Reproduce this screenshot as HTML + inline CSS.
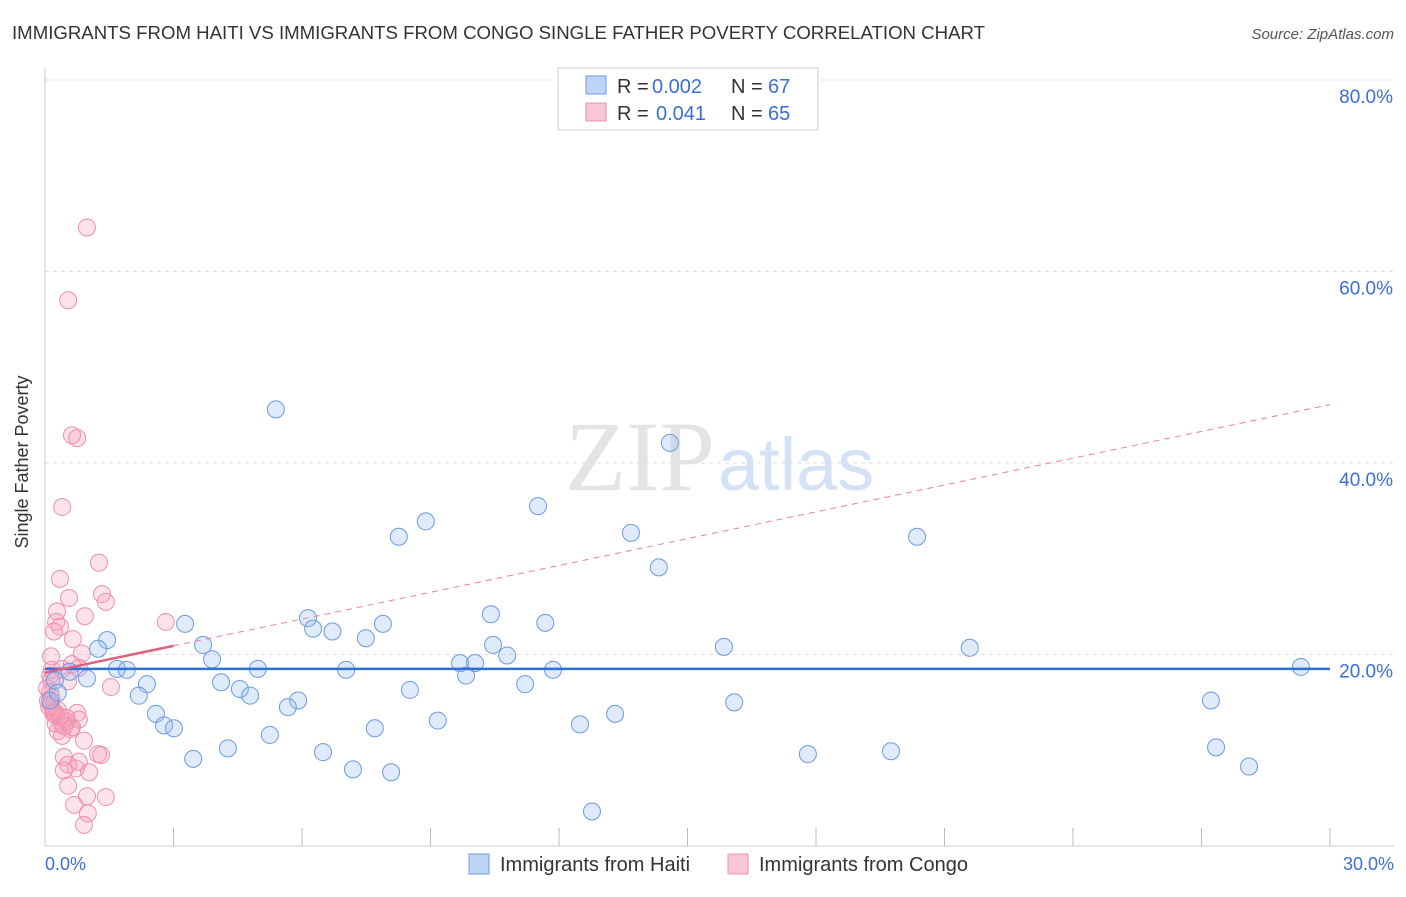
<!DOCTYPE html>
<html><head><meta charset="utf-8"><style>
body{margin:0;background:#fff;font-family:"Liberation Sans",sans-serif;}
</style></head><body>
<svg width="1406" height="892" xmlns="http://www.w3.org/2000/svg" font-family="Liberation Sans, sans-serif">
<text x="12" y="39" font-size="18" fill="#333" textLength="973" lengthAdjust="spacingAndGlyphs">IMMIGRANTS FROM HAITI VS IMMIGRANTS FROM CONGO SINGLE FATHER POVERTY CORRELATION CHART</text>
<text x="1394" y="39" font-size="15" fill="#555" font-style="italic" text-anchor="end">Source: ZipAtlas.com</text>
<text x="715" y="490" font-size="100" fill="#e4e4e4" text-anchor="end" font-family="Liberation Serif, serif">ZIP</text>
<text x="718" y="490" font-size="74" fill="#d4e2f6">atlas</text>
<g id="grid"></g>
<line x1="45" y1="68" x2="45" y2="846" stroke="#ccc"/>
<line x1="45" y1="846" x2="1394" y2="846" stroke="#ccc"/>
<text x="22" y="456" font-size="18" fill="#333" transform="rotate(-90 28 456)" text-anchor="middle">Single Father Poverty</text>
<text x="45" y="870" font-size="18" fill="#3b6fd4">0.0%</text>
<text x="1394" y="870" font-size="18" fill="#3b6fd4" text-anchor="end">30.0%</text>
<g id="pts"></g>
<g id="lines"></g>
<g>
<rect x="558" y="68" width="260" height="62" fill="#fff" stroke="#ccc"/>
<rect x="586" y="76" width="20" height="18" fill="#bcd4f5" stroke="#6f9be0"/>
<rect x="586" y="103" width="20" height="18" fill="#f9c6d5" stroke="#ee8fab"/>
<text x="617" y="93" font-size="20" fill="#333">R =</text>
<text x="652" y="93" font-size="20" fill="#3b6fd4">0.002</text>
<text x="731" y="93" font-size="20" fill="#333">N =</text>
<text x="768" y="93" font-size="20" fill="#3b6fd4">67</text>
<text x="617" y="120" font-size="20" fill="#333">R =</text>
<text x="656" y="120" font-size="20" fill="#3b6fd4">0.041</text>
<text x="731" y="120" font-size="20" fill="#333">N =</text>
<text x="768" y="120" font-size="20" fill="#3b6fd4">65</text>
</g>
<g>
<rect x="469" y="854" width="20" height="20" fill="#bcd4f5" stroke="#6f9be0"/>
<text x="500" y="871" font-size="20" fill="#333">Immigrants from Haiti</text>
<rect x="728" y="854" width="20" height="20" fill="#f9c6d5" stroke="#ee8fab"/>
<text x="759" y="871" font-size="20" fill="#333">Immigrants from Congo</text>
</g>
</svg>
<script>
const yTicks=[20,40,60,80];
const xTicks=[0,3,6,9,12,15,18,21,24,27,30];
const haitiX=[5.39,14.59,11.51,8.89,8.26,13.68,20.36,14.33,10.41,6.14,11.68,3.27,7.89,6.26,6.71,7.49,1.45,3.69,10.46,15.85,21.59,1.24,10.79,3.90,9.69,10.04,29.32,1.68,1.91,4.97,7.03,11.86,0.58,9.83,0.98,0.23,4.11,2.38,11.21,4.55,8.52,2.19,4.79,5.91,0.12,16.09,27.22,5.67,2.59,13.31,9.17,2.78,3.01,12.49,7.70,5.25,4.27,27.34,6.49,17.81,19.75,3.46,7.19,8.08,28.11,12.77,0.3];
const haitiY=[45.6,42.1,35.5,33.9,32.3,32.7,32.3,29.1,24.2,23.8,23.3,23.2,23.2,22.7,22.4,21.7,21.5,21.0,21.0,20.8,20.7,20.6,19.9,19.5,19.1,19.1,18.7,18.5,18.4,18.5,18.4,18.4,18.2,17.8,17.5,17.3,17.1,16.9,16.9,16.4,16.3,15.7,15.7,15.2,15.2,15.0,15.2,14.5,13.8,13.8,13.1,12.6,12.3,12.7,12.3,11.6,10.2,10.3,9.8,9.6,9.9,9.1,8.0,7.7,8.3,3.6,16.0];
const congoX=[0.98,0.54,0.63,0.75,0.40,1.26,0.35,1.33,1.42,0.56,0.28,0.93,2.82,0.26,0.35,0.21,0.65,0.86,0.14,0.16,0.40,0.79,0.63,0.54,0.14,1.54,0.12,0.07,0.14,0.19,0.26,0.75,0.79,0.40,0.51,0.63,0.30,0.40,0.91,1.24,1.31,0.44,0.79,0.54,0.72,0.44,1.03,0.54,0.98,1.42,0.68,1.00,0.91,0.1,0.2,0.3,0.15,0.25,0.05,0.35,0.45,0.12,0.22,0.6,0.5];
const congoY=[64.6,57.0,42.9,42.6,35.4,29.6,27.9,26.3,25.5,25.9,24.5,24.0,23.4,23.4,22.9,22.4,21.6,20.1,19.8,18.4,18.5,18.6,19.0,17.2,17.3,16.6,16.0,15.2,14.7,14.1,13.6,13.9,13.2,12.7,13.0,12.4,12.0,11.5,11.0,9.6,9.5,9.3,8.8,8.5,8.1,7.9,7.7,6.3,5.2,5.1,4.3,3.4,2.2,14.5,13.8,14.2,15.5,12.8,16.5,13.5,12.5,17.8,14.0,12.2,13.4];
const haitiFit=[18.5,18.5];
const congoFit=[18.1,46.1];
const NS='http://www.w3.org/2000/svg';
const X=v=>45+v/30*1285;
const Y=v=>846-v/80*766;
const mk=(t,a,p)=>{const e=document.createElementNS(NS,t);for(const k in a)e.setAttribute(k,a[k]);p.appendChild(e);return e;};
const grid=document.getElementById('grid');
yTicks.forEach(t=>{
 const l=mk('line',{x1:45,x2:1394,y1:Y(t),y2:Y(t),stroke:'#ddd','stroke-dasharray':'4,4'},grid);
 
 
 const tx=mk('text',{x:1393,y:Y(t)+23,'font-size':19,fill:'#3b6fd4','text-anchor':'end'},grid);
 tx.textContent=t.toFixed(1)+'%';
 
 
});
xTicks.forEach(t=>{
 const l=mk('line',{x1:X(t),x2:X(t),y1:828,y2:846,stroke:'#bbb'},grid);
 
 
});
const pts=document.getElementById('pts');
congoX.forEach((v,i)=>{
 const c=mk('circle',{cx:X(v),cy:Y(congoY[i]),r:8.5,fill:'rgba(246,160,186,0.3)',stroke:'#f08fac','stroke-width':1},pts);
 
 
});
haitiX.forEach((v,i)=>{
 const c=mk('circle',{cx:X(v),cy:Y(haitiY[i]),r:8.5,fill:'rgba(150,190,240,0.3)',stroke:'#6a9ae0','stroke-width':1},pts);
 
 
});
const lines=document.getElementById('lines');
const hl=mk('line',{x1:X(0),y1:Y(haitiFit[0]),x2:X(30),y2:Y(haitiFit[1]),stroke:'#2f6fd6','stroke-width':2.5},lines);


const cy=v=>congoFit[0]+(congoFit[1]-congoFit[0])*v/30;
const cd=mk('line',{x1:X(3),y1:Y(cy(3)),x2:X(30),y2:Y(cy(30)),stroke:'#e8809f','stroke-width':1,'stroke-dasharray':'6,5'},lines);


const cs=mk('line',{x1:X(0),y1:Y(cy(0)),x2:X(3),y2:Y(cy(3)),stroke:'#e0607f','stroke-width':2.5},lines);


</script>
</body></html>
